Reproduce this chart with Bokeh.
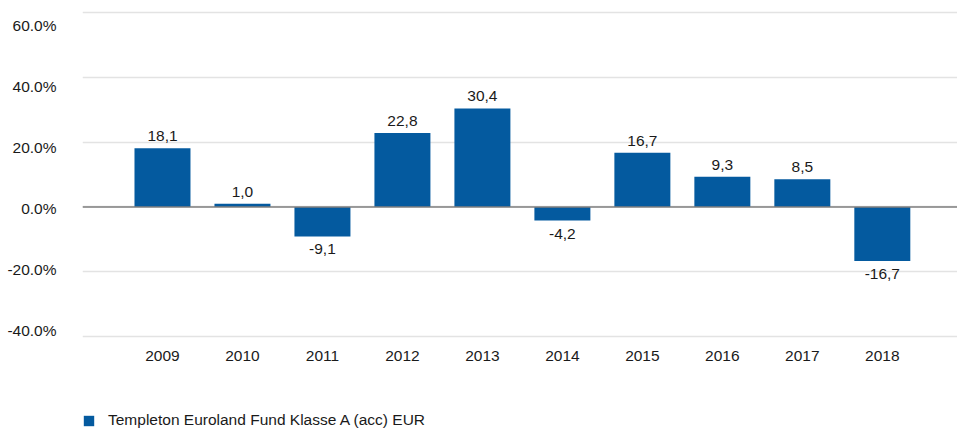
from bokeh.plotting import figure
from bokeh.models import (Range1d, LinearAxis, FixedTicker, Span, Legend, LegendItem,
                          ColumnDataSource)
from bokeh.embed import file_html
from bokeh.resources import INLINE
from bokeh.core.properties import value

years = [2009, 2010, 2011, 2012, 2013, 2014, 2015, 2016, 2017, 2018]
year_labels = ["2009", "2010", "2011", "2012", "2013", "2014", "2015", "2016", "2017", "2018"]
returns = [18.1, 1.0, -9.1, 22.8, 30.4, -4.2, 16.7, 9.3, 8.5, -16.7]
y_ticks = [-40, -20, 0, 20, 40, 60]
y_tick_labels = ["-40.0%", "-20.0%", "0.0%", "20.0%", "40.0%", "60.0%"]
series_name = "Templeton Euroland Fund Klasse A (acc) EUR"

BAR = "#045a9f"
FONT = "Liberation Sans"
TXT = "#1a1a1a"
FS = "15.5px"

p = figure(width=957, height=430, output_backend="svg", toolbar_location=None,
           x_range=Range1d(2008, 2018.94), y_range=Range1d(-69.01, 63.70),
           min_border_left=82, min_border_right=0, min_border_top=0,
           min_border_bottom=0, outline_line_color=None)

p.xaxis.visible = False
p.yaxis.visible = False

# y axis labels (label positions as drawn in the reference)
p.extra_y_ranges = {"lbl": Range1d(-72.79, 68.20)}
ya = LinearAxis(y_range_name="lbl", ticker=FixedTicker(ticks=y_ticks),
                major_label_overrides=dict(zip(y_ticks, y_tick_labels)))
ya.axis_line_color = None
ya.major_tick_line_color = None
ya.minor_tick_line_color = None
ya.major_label_standoff = 20
ya.major_label_text_font = FONT
ya.major_label_text_font_size = FS
ya.major_label_text_color = TXT
p.add_layout(ya, "left")

p.xgrid.visible = False
p.ygrid.ticker = FixedTicker(ticks=y_ticks)
p.ygrid.grid_line_color = "#e3e3e3"
p.ygrid.grid_line_width = 1.3

src = ColumnDataSource(dict(x=years, top=returns))
r = p.vbar(x="x", top="top", bottom=0, width=0.7, source=src,
           fill_color=BAR, line_color=None)

p.add_layout(Span(location=0, dimension="width", line_color="#7f7f7f", line_width=1.5))

# category (year) labels under the lowest grid line
p.text(x=years, y=[min(y_ticks)] * len(years), text=year_labels,
       text_align="center", text_baseline="middle", y_offset=19,
       text_font=value(FONT), text_font_size=FS, text_color=TXT)

pos = [(x, v) for x, v in zip(years, returns) if v >= 0]
neg = [(x, v) for x, v in zip(years, returns) if v < 0]
fmt = lambda v: f"{v:.1f}".replace(".", ",")
p.text(x=[a for a, _ in pos], y=[b for _, b in pos], text=[fmt(b) for _, b in pos],
       text_align="center", text_baseline="bottom", y_offset=-7,
       text_font=value(FONT), text_font_size=FS, text_color=TXT)
p.text(x=[a for a, _ in neg], y=[b for _, b in neg], text=[fmt(b) for _, b in neg],
       text_align="center", text_baseline="top", y_offset=8,
       text_font=value(FONT), text_font_size=FS, text_color=TXT)

legend = Legend(items=[LegendItem(label=series_name, renderers=[r])],
                location=(0, 1), orientation="horizontal",
                padding=0, margin=0, border_line_color=None, background_fill_alpha=0,
                glyph_width=13, glyph_height=13, label_height=13, label_standoff=13,
                label_text_font=FONT, label_text_font_size=FS,
                label_text_color=TXT)
p.add_layout(legend, "center")

open("out.html", "w").write(file_html(p, INLINE))
